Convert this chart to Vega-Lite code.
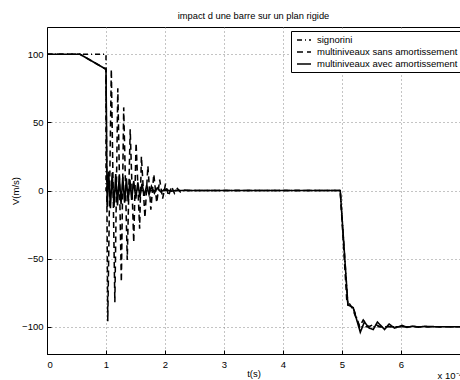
{
  "$schema": "https://vega.github.io/schema/vega-lite/v6.json",
  "width": 413,
  "height": 327,
  "autosize": {"type": "none"},
  "padding": {"left": 47, "top": 27, "right": 0, "bottom": 26},
  "background": "white",
  "title": {"text": "impact d une barre sur un plan rigide", "fontSize": 9.3, "fontWeight": "normal", "font": "Liberation Sans", "color": "black", "offset": 6},
  "config": {
    "font": "Liberation Sans",
    "view": {"stroke": "black", "strokeWidth": 1},
    "axis": {
      "labelFont": "Liberation Sans", "labelFontSize": 9.5, "labelColor": "black",
      "titleFont": "Liberation Sans", "titleFontSize": 9.5, "titleFontWeight": "normal", "titleColor": "black",
      "domainColor": "black", "tickColor": "black", "tickSize": -4,
      "grid": true, "gridColor": "#888888", "gridDash": [1, 3], "gridOpacity": 1, "gridWidth": 1
    }
  },
  "data": {"values": [
    {"s": "signorini", "k": 0, "t": 0, "v": 100},
    {"s": "signorini", "k": 1, "t": 1.0, "v": 100},
    {"s": "signorini", "k": 2, "t": 1.0, "v": 0},
    {"s": "signorini", "k": 3, "t": 4.97, "v": 0},
    {"s": "signorini", "k": 4, "t": 5.1, "v": -84},
    {"s": "signorini", "k": 5, "t": 5.19, "v": -86},
    {"s": "signorini", "k": 6, "t": 5.3, "v": -100},
    {"s": "signorini", "k": 7, "t": 7.0, "v": -100},

    {"s": "multiniveaux sans amortissement", "k": 0, "t": 0, "v": 100},
    {"s": "multiniveaux sans amortissement", "k": 1, "t": 0.56, "v": 100},
    {"s": "multiniveaux sans amortissement", "k": 2, "t": 1.0, "v": 89},
    {"s": "multiniveaux sans amortissement", "k": 3, "t": 1.03, "v": -96},
    {"s": "multiniveaux sans amortissement", "k": 4, "t": 1.09, "v": 89},
    {"s": "multiniveaux sans amortissement", "k": 5, "t": 1.15, "v": -82},
    {"s": "multiniveaux sans amortissement", "k": 6, "t": 1.2, "v": 75},
    {"s": "multiniveaux sans amortissement", "k": 7, "t": 1.26, "v": -67},
    {"s": "multiniveaux sans amortissement", "k": 8, "t": 1.3, "v": 61},
    {"s": "multiniveaux sans amortissement", "k": 9, "t": 1.36, "v": -51},
    {"s": "multiniveaux sans amortissement", "k": 10, "t": 1.41, "v": 45},
    {"s": "multiniveaux sans amortissement", "k": 11, "t": 1.47, "v": -38},
    {"s": "multiniveaux sans amortissement", "k": 12, "t": 1.51, "v": 35},
    {"s": "multiniveaux sans amortissement", "k": 13, "t": 1.57, "v": -28},
    {"s": "multiniveaux sans amortissement", "k": 14, "t": 1.6, "v": 25},
    {"s": "multiniveaux sans amortissement", "k": 15, "t": 1.66, "v": -20},
    {"s": "multiniveaux sans amortissement", "k": 16, "t": 1.71, "v": 18},
    {"s": "multiniveaux sans amortissement", "k": 17, "t": 1.76, "v": -14},
    {"s": "multiniveaux sans amortissement", "k": 18, "t": 1.81, "v": 12},
    {"s": "multiniveaux sans amortissement", "k": 19, "t": 1.86, "v": -9},
    {"s": "multiniveaux sans amortissement", "k": 20, "t": 1.91, "v": 8},
    {"s": "multiniveaux sans amortissement", "k": 21, "t": 1.96, "v": -6},
    {"s": "multiniveaux sans amortissement", "k": 22, "t": 2.01, "v": 5},
    {"s": "multiniveaux sans amortissement", "k": 23, "t": 2.06, "v": -4},
    {"s": "multiniveaux sans amortissement", "k": 24, "t": 2.11, "v": 3},
    {"s": "multiniveaux sans amortissement", "k": 25, "t": 2.16, "v": -2},
    {"s": "multiniveaux sans amortissement", "k": 26, "t": 2.21, "v": 1.5},
    {"s": "multiniveaux sans amortissement", "k": 27, "t": 2.26, "v": -1},
    {"s": "multiniveaux sans amortissement", "k": 28, "t": 2.31, "v": 0.5},
    {"s": "multiniveaux sans amortissement", "k": 29, "t": 2.4, "v": 0},
    {"s": "multiniveaux sans amortissement", "k": 30, "t": 4.97, "v": 0},
    {"s": "multiniveaux sans amortissement", "k": 31, "t": 5.08, "v": -80},
    {"s": "multiniveaux sans amortissement", "k": 32, "t": 5.17, "v": -86},
    {"s": "multiniveaux sans amortissement", "k": 33, "t": 5.3, "v": -100},
    {"s": "multiniveaux sans amortissement", "k": 34, "t": 5.36, "v": -95},
    {"s": "multiniveaux sans amortissement", "k": 35, "t": 5.45, "v": -100},
    {"s": "multiniveaux sans amortissement", "k": 36, "t": 5.55, "v": -98},
    {"s": "multiniveaux sans amortissement", "k": 37, "t": 5.65, "v": -100},
    {"s": "multiniveaux sans amortissement", "k": 38, "t": 7.0, "v": -100},

    {"s": "multiniveaux avec amortissement", "k": 0, "t": 0, "v": 100},
    {"s": "multiniveaux avec amortissement", "k": 1, "t": 0.56, "v": 100},
    {"s": "multiniveaux avec amortissement", "k": 2, "t": 1.0, "v": 89},
    {"s": "multiniveaux avec amortissement", "k": 3, "t": 1.02, "v": -12},
    {"s": "multiniveaux avec amortissement", "k": 4, "t": 1.045, "v": 14},
    {"s": "multiniveaux avec amortissement", "k": 5, "t": 1.075, "v": -13},
    {"s": "multiniveaux avec amortissement", "k": 6, "t": 1.105, "v": 13},
    {"s": "multiniveaux avec amortissement", "k": 7, "t": 1.135, "v": -12},
    {"s": "multiniveaux avec amortissement", "k": 8, "t": 1.165, "v": 12},
    {"s": "multiniveaux avec amortissement", "k": 9, "t": 1.195, "v": -11},
    {"s": "multiniveaux avec amortissement", "k": 10, "t": 1.225, "v": 11},
    {"s": "multiniveaux avec amortissement", "k": 11, "t": 1.255, "v": -10},
    {"s": "multiniveaux avec amortissement", "k": 12, "t": 1.285, "v": 10},
    {"s": "multiniveaux avec amortissement", "k": 13, "t": 1.315, "v": -9},
    {"s": "multiniveaux avec amortissement", "k": 14, "t": 1.345, "v": 9},
    {"s": "multiniveaux avec amortissement", "k": 15, "t": 1.375, "v": -8},
    {"s": "multiniveaux avec amortissement", "k": 16, "t": 1.405, "v": 8},
    {"s": "multiniveaux avec amortissement", "k": 17, "t": 1.435, "v": -7},
    {"s": "multiniveaux avec amortissement", "k": 18, "t": 1.47, "v": 7},
    {"s": "multiniveaux avec amortissement", "k": 19, "t": 1.505, "v": -6},
    {"s": "multiniveaux avec amortissement", "k": 20, "t": 1.54, "v": 6},
    {"s": "multiniveaux avec amortissement", "k": 21, "t": 1.575, "v": -5},
    {"s": "multiniveaux avec amortissement", "k": 22, "t": 1.61, "v": 5},
    {"s": "multiniveaux avec amortissement", "k": 23, "t": 1.65, "v": -4},
    {"s": "multiniveaux avec amortissement", "k": 24, "t": 1.69, "v": 4},
    {"s": "multiniveaux avec amortissement", "k": 25, "t": 1.73, "v": -3},
    {"s": "multiniveaux avec amortissement", "k": 26, "t": 1.77, "v": 3},
    {"s": "multiniveaux avec amortissement", "k": 27, "t": 1.82, "v": -2},
    {"s": "multiniveaux avec amortissement", "k": 28, "t": 1.87, "v": 2},
    {"s": "multiniveaux avec amortissement", "k": 29, "t": 1.93, "v": -1},
    {"s": "multiniveaux avec amortissement", "k": 30, "t": 2.0, "v": 1},
    {"s": "multiniveaux avec amortissement", "k": 31, "t": 2.1, "v": -0.5},
    {"s": "multiniveaux avec amortissement", "k": 32, "t": 2.2, "v": 0},
    {"s": "multiniveaux avec amortissement", "k": 33, "t": 4.97, "v": 0},
    {"s": "multiniveaux avec amortissement", "k": 34, "t": 5.1, "v": -84},
    {"s": "multiniveaux avec amortissement", "k": 35, "t": 5.19, "v": -86},
    {"s": "multiniveaux avec amortissement", "k": 36, "t": 5.31, "v": -104},
    {"s": "multiniveaux avec amortissement", "k": 37, "t": 5.38, "v": -96.5},
    {"s": "multiniveaux avec amortissement", "k": 38, "t": 5.46, "v": -101},
    {"s": "multiniveaux avec amortissement", "k": 39, "t": 5.53, "v": -102},
    {"s": "multiniveaux avec amortissement", "k": 40, "t": 5.6, "v": -96.5},
    {"s": "multiniveaux avec amortissement", "k": 41, "t": 5.72, "v": -102},
    {"s": "multiniveaux avec amortissement", "k": 42, "t": 5.8, "v": -98},
    {"s": "multiniveaux avec amortissement", "k": 43, "t": 5.89, "v": -101},
    {"s": "multiniveaux avec amortissement", "k": 44, "t": 6.02, "v": -99},
    {"s": "multiniveaux avec amortissement", "k": 45, "t": 6.1, "v": -100.5},
    {"s": "multiniveaux avec amortissement", "k": 46, "t": 6.2, "v": -99.5},
    {"s": "multiniveaux avec amortissement", "k": 47, "t": 6.3, "v": -100.3},
    {"s": "multiniveaux avec amortissement", "k": 48, "t": 6.4, "v": -99.7},
    {"s": "multiniveaux avec amortissement", "k": 49, "t": 6.6, "v": -100},
    {"s": "multiniveaux avec amortissement", "k": 50, "t": 7.0, "v": -100}
  ]},
  "layer": [
    {
      "mark": {"type": "line", "color": "black", "strokeJoin": "miter"},
      "encoding": {
        "x": {"field": "t", "type": "quantitative", "scale": {"domain": [0, 7], "nice": false, "zero": false},
              "axis": {"values": [0, 1, 2, 3, 4, 5, 6], "format": "d", "title": "t(s)", "labelPadding": 9, "titlePadding": 0}},
        "y": {"field": "v", "type": "quantitative", "scale": {"domain": [-120, 120], "nice": false},
              "axis": {"values": [-100, -50, 0, 50, 100], "title": "V(m/s)", "labelPadding": 8, "titlePadding": 1}},
        "order": {"field": "k", "type": "quantitative"},
        "strokeDash": {"field": "s", "type": "nominal",
          "scale": {"domain": ["signorini", "multiniveaux sans amortissement", "multiniveaux avec amortissement"],
                    "range": [[5, 3, 1, 3], [6, 4], [1, 0]]},
          "legend": {"title": null, "orient": "none", "legendX": 244, "legendY": 4,
                     "strokeColor": "black", "fillColor": "white", "padding": 3, "cornerRadius": 0,
                     "labelFont": "Liberation Sans", "labelFontSize": 9.5, "labelColor": "black", "labelLimit": 200,
                     "symbolType": "M-1.4,0H1.4", "symbolSize": 100, "symbolStrokeColor": "black",
                     "rowPadding": 1, "labelOffset": 7, "symbolOffset": 4}},
        "strokeWidth": {"field": "s", "type": "nominal",
          "scale": {"domain": ["signorini", "multiniveaux sans amortissement", "multiniveaux avec amortissement"],
                    "range": [1.5, 1.6, 2.2]},
          "legend": {"title": null, "orient": "none", "legendX": 244, "legendY": 4,
                     "strokeColor": "black", "fillColor": "white", "padding": 3, "cornerRadius": 0,
                     "labelFont": "Liberation Sans", "labelFontSize": 9.5, "labelColor": "black", "labelLimit": 200,
                     "symbolType": "M-1.4,0H1.4", "symbolSize": 100, "symbolStrokeColor": "black",
                     "rowPadding": 1, "labelOffset": 7, "symbolOffset": 4}}
      }
    },
    {
      "data": {"values": [{"lab": "x 10⁻⁴", "t": 6.62, "v": -138}]},
      "mark": {"type": "text", "align": "left", "baseline": "alphabetic", "fontSize": 9.5, "font": "Liberation Sans", "color": "black"},
      "encoding": {
        "x": {"field": "t", "type": "quantitative"},
        "y": {"field": "v", "type": "quantitative"},
        "text": {"field": "lab"}
      }
    }
  ]
}
